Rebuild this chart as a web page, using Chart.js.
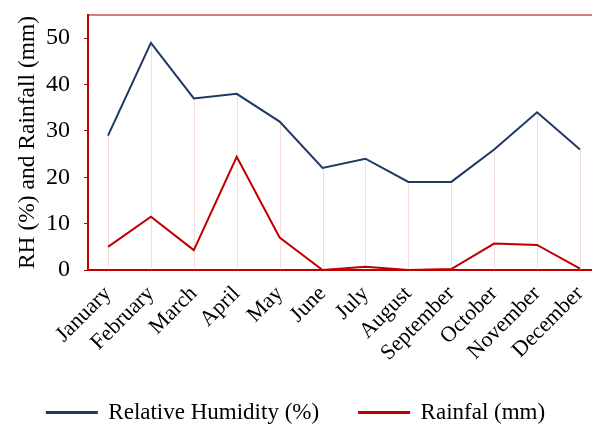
<!DOCTYPE html>
<html>
<head>
<meta charset="utf-8">
<script src="https://cdn.jsdelivr.net/npm/chart.js@4/dist/chart.umd.min.js"></script>
<style>
  html, body { margin: 0; padding: 0; background: #fff; }
  #wrap { width: 592px; height: 426px; position: relative; }
</style>
</head>
<body>
<div id="wrap"><canvas id="climate"></canvas></div>
<script>
const months = ['January', 'February', 'March', 'April', 'May', 'June', 'July',
  'August', 'September', 'October', 'November', 'December'];
const humidity = [29, 49, 37, 38, 32, 22, 24, 19, 19, 26, 34, 26];
const rainfall = [5.0, 11.5, 4.3, 24.4, 7.0, 0, 0.7, 0, 0.2, 5.7, 5.4, 0.3];
const yTicks = [0, 10, 20, 30, 40, 50];

const blue = '#1F3864';
const red = '#C00000';
const serif = "'Liberation Serif', 'Times New Roman', serif";

// faint drop lines from the humidity line down to zero, plus the top border
const frame = {
  id: 'frame',
  beforeDatasetsDraw(chart) {
    const ctx = chart.ctx;
    const y0 = chart.scales.y.getPixelForValue(0);
    ctx.save();
    ctx.strokeStyle = 'rgba(225, 160, 160, 0.35)';
    ctx.lineWidth = 1;
    chart.getDatasetMeta(0).data.forEach(p => {
      ctx.beginPath();
      ctx.moveTo(Math.round(p.x) + 0.5, p.y);
      ctx.lineTo(Math.round(p.x) + 0.5, y0);
      ctx.stroke();
    });
    const a = chart.chartArea;
    ctx.strokeStyle = 'rgba(192, 0, 0, 0.7)';
    ctx.lineWidth = 1.5;
    ctx.beginPath();
    ctx.moveTo(a.left, a.top);
    ctx.lineTo(a.right, a.top);
    ctx.stroke();
    ctx.restore();
  }
};

new Chart(document.getElementById('climate'), {
  type: 'line',
  data: {
    datasets: [
      {
        label: 'Relative Humidity (%)',
        data: humidity.map((v, i) => ({ x: i, y: v })),
        borderColor: blue,
        backgroundColor: blue,
        borderWidth: 2,
        pointRadius: 0,
        tension: 0
      },
      {
        label: 'Rainfal (mm)',
        data: rainfall.map((v, i) => ({ x: i, y: v })),
        borderColor: red,
        backgroundColor: red,
        borderWidth: 2,
        pointRadius: 0,
        tension: 0
      }
    ]
  },
  options: {
    responsive: true,
    maintainAspectRatio: false,
    animation: false,
    layout: { padding: { top: 15, right: 0, left: 0, bottom: -8 } },
    plugins: {
      legend: {
        position: 'bottom',
        labels: {
          color: '#000',
          font: { family: serif, size: 23 },
          boxWidth: 50,
          boxHeight: 1,
          padding: 40
        }
      },
      tooltip: { enabled: false }
    },
    scales: {
      x: {
        type: 'linear',
        min: -0.466,
        max: 11.28,
        afterBuildTicks: s => { s.ticks = months.map((m, i) => ({ value: i })); },
        afterFit: s => { s.height = 91; s.paddingLeft = 0; s.paddingRight = 0; },
        grid: { display: false, drawTicks: false },
        border: { color: red, width: 2 },
        ticks: {
          color: '#000',
          font: { family: serif, size: 22 },
          minRotation: 45,
          maxRotation: 45,
          padding: 11,
          callback: v => months[v]
        }
      },
      y: {
        min: 0,
        max: 55,
        afterBuildTicks: s => { s.ticks = yTicks.map(v => ({ value: v })); },
        afterFit: s => { s.width = 88; s.paddingTop = 0; s.paddingBottom = 0; },
        grid: { drawOnChartArea: false, drawTicks: true, tickLength: 4, color: red },
        border: { color: red, width: 2 },
        ticks: {
          color: '#000',
          font: { family: serif, size: 24 },
          padding: 14
        },
        title: {
          display: true,
          text: 'RH (%) and Rainfall (mm)',
          color: '#000',
          font: { family: serif, size: 23.5, weight: 'normal' },
          padding: { top: 14, bottom: 0 }
        }
      }
    }
  },
  plugins: [frame]
});
</script>
</body>
</html>
